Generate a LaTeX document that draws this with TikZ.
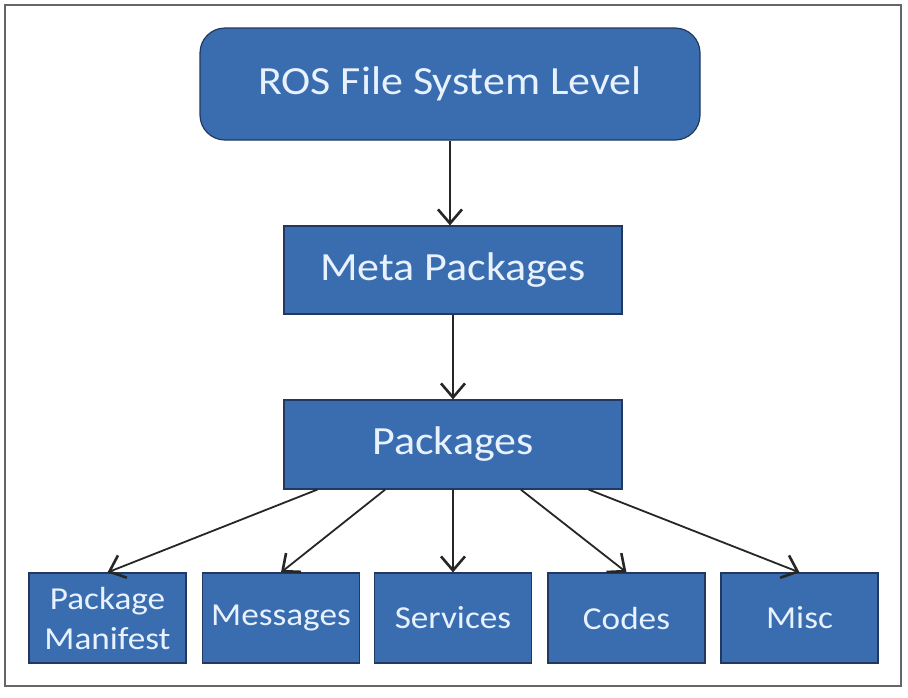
\documentclass[tikz,border=0pt]{standalone}
\usepackage{fontspec}
\setmainfont[FakeStretch=1.1]{Carlito}
\usetikzlibrary{arrows.meta,calc}
\definecolor{boxfill}{HTML}{3A6DAF}
\definecolor{boxline}{HTML}{22385E}
\definecolor{boxtext}{HTML}{E8F2FF}
\tikzset{
  box/.style={draw=boxline, line width=1.2pt, fill=boxfill, text=boxtext, inner sep=0pt, align=center},
  bigbox/.style={box, font=\fontsize{40}{48}\selectfont},
  smallbox/.style={box, minimum width=157pt, minimum height=90pt, font=\fontsize{32}{40}\selectfont},
  link/.style={draw=black!85, line width=1.8pt, -{Straight Barb[length=14pt,width=24pt,line width=2.6pt]}}
}
\begin{document}
\begin{tikzpicture}[x=1pt,y=-1pt]
\useasboundingbox (0,0) rectangle (908,697);
\fill[white] (0,0) rectangle (908,697);
\draw[draw=black!60, line width=2pt] (5,5) rectangle (901,686);
\node[bigbox, rounded corners=25pt, minimum width=500pt, minimum height=112pt] (top) at (450,84) {ROS File System Level};
\node[bigbox, minimum width=338pt, minimum height=88pt] (meta) at (453,270) {Meta Packages};
\node[bigbox, minimum width=338pt, minimum height=89pt] (pk) at (453,444.5) {Packages};
\node[smallbox] (b1) at (107.5,618) {Package\\Manifest};
\node[smallbox] (b2) at (281,618) {Messages};
\node[smallbox] (b3) at (453,618) {Services};
\node[smallbox] (b4) at (626.5,618) {Codes};
\node[smallbox] (b5) at (799.5,618) {Misc};
\draw[link] (top.south) -- (top.south |- meta.north);
\draw[link] (meta.south) -- (pk.north);
\draw[link] ($(pk.south west)!0.1!(pk.south east)$) -- (b1.north);
\draw[link] ($(pk.south west)!0.3!(pk.south east)$) -- (b2.north);
\draw[link] ($(pk.south west)!0.5!(pk.south east)$) -- (b3.north);
\draw[link] ($(pk.south west)!0.7!(pk.south east)$) -- (b4.north);
\draw[link] ($(pk.south west)!0.9!(pk.south east)$) -- (b5.north);
\end{tikzpicture}
\end{document}
